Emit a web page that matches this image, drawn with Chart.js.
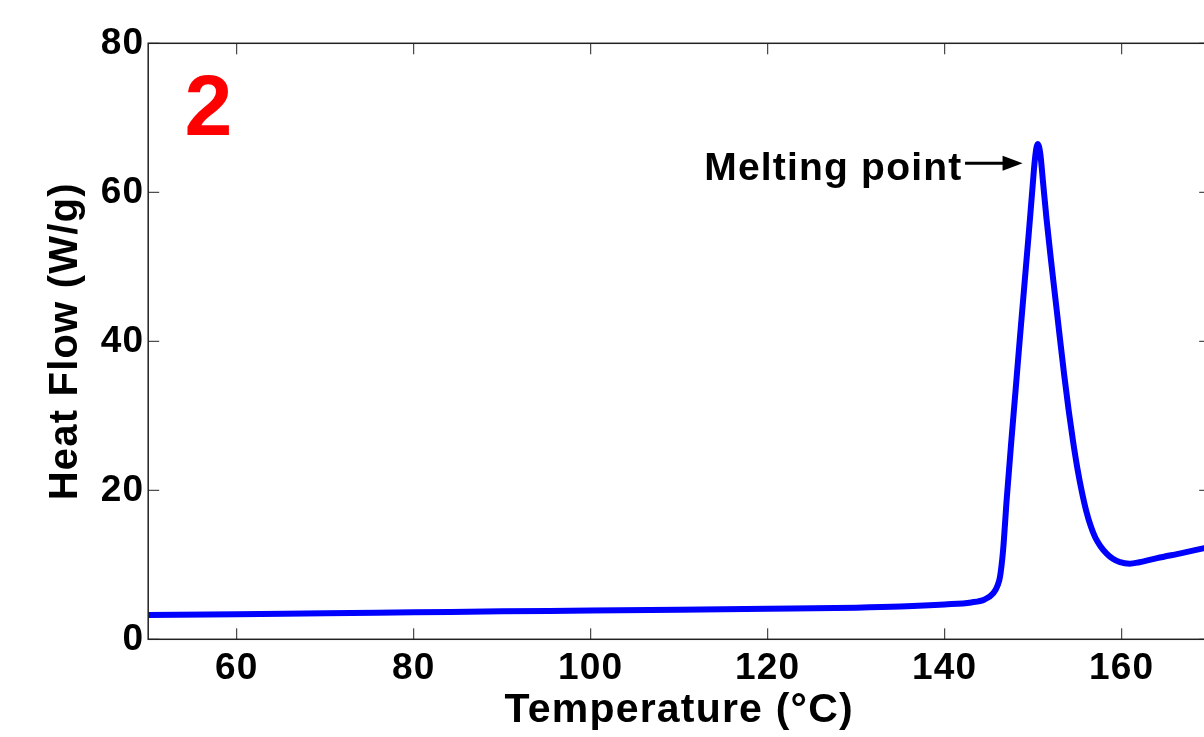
<!DOCTYPE html>
<html>
<head>
<meta charset="utf-8">
<title>Heat Flow</title>
<script src="https://cdn.jsdelivr.net/npm/chart.js@4.4.0/dist/chart.umd.min.js"></script>
<style>
  html, body { margin: 0; padding: 0; background: #fff; overflow: hidden; }
  #wrap { width: 1230px; height: 737px; position: relative; }
</style>
</head>
<body>
<div id="wrap"><canvas id="dscChart"></canvas></div>
<script>
// DSC trace, sample 2
const temperature = [50, 60, 70, 80, 90, 100, 110, 120, 130, 135, 140, 143, 144.5, 145.5, 146, 146.25,
  146.6, 147, 147.5, 148, 148.5, 149, 149.5, 149.9, 150.2, 150.5, 150.8,
  151.1, 151.5, 152, 152.5, 153, 153.5, 154, 154.5, 155, 155.5, 156, 156.5, 157, 157.6,
  158.3, 159, 159.8, 160.9, 162, 164, 166.9, 169.2, 170];
const heatFlow = [3.25, 3.35, 3.5, 3.62, 3.75, 3.85, 3.97, 4.1, 4.25, 4.4, 4.68, 4.95, 5.35, 6.2, 7.3, 8.4,
  12.0, 18.7, 26.2, 33.3, 40.5, 47.5, 54.5, 60.3, 64.5, 66.5, 65.2,
  61.5, 56.5, 51.0, 45.8, 40.6, 35.5, 30.8, 26.6, 22.9, 19.8, 17.2, 15.2, 13.7, 12.5,
  11.5, 10.8, 10.35, 10.15, 10.35, 10.9, 11.6, 12.2, 12.4];

const xTicks = [60, 80, 100, 120, 140, 160];
const yTicks = [0, 20, 40, 60, 80];

const FONT = "'Liberation Sans', Arial, Helvetica, sans-serif";
const boldFont = (size) => ({ family: FONT, size: size, weight: "bold", lineHeight: 1 });

// a little extra tracking on all bold text
const tracking = {
  id: "tracking",
  beforeDraw(chart) {
    chart.ctx.letterSpacing = "1.2px";
  }
};

// full box around the plot with inward ticks on all four sides
const axesBox = {
  id: "axesBox",
  afterDraw(chart) {
    const { ctx, chartArea: a, scales } = chart;
    const len = 11;
    ctx.save();
    ctx.strokeStyle = "#222";
    ctx.lineWidth = 1.5;
    ctx.strokeRect(a.left, a.top, a.right - a.left, a.bottom - a.top);
    ctx.lineWidth = 1;
    ctx.beginPath();
    xTicks.forEach((v) => {
      const px = scales.x.getPixelForValue(v);
      ctx.moveTo(px, a.bottom); ctx.lineTo(px, a.bottom - len);
      ctx.moveTo(px, a.top); ctx.lineTo(px, a.top + len);
    });
    yTicks.forEach((v) => {
      const py = scales.y.getPixelForValue(v);
      ctx.moveTo(a.left, py); ctx.lineTo(a.left + len, py);
      ctx.moveTo(a.right, py); ctx.lineTo(a.right - len, py);
    });
    ctx.stroke();
    ctx.restore();
  }
};

// panel number and the peak label with its arrow
const notes = {
  id: "notes",
  afterDraw(chart) {
    const { ctx, scales } = chart;
    const X = (v) => scales.x.getPixelForValue(v);
    const Y = (v) => scales.y.getPixelForValue(v);
    ctx.save();

    ctx.letterSpacing = "0px";
    ctx.fillStyle = "#ff0000";
    ctx.font = "bold 86px " + FONT;
    ctx.textAlign = "center";
    ctx.textBaseline = "alphabetic";
    ctx.fillText("2", X(56.8), Y(67.7));

    ctx.letterSpacing = "1.2px";
    ctx.fillStyle = "#000";
    ctx.font = "bold 39px " + FONT;
    ctx.textAlign = "right";
    ctx.fillText("Melting point", X(142), Y(61.65));

    const x0 = X(142.3), x1 = X(148.8), ya = Y(63.9);
    ctx.strokeStyle = "#000";
    ctx.lineWidth = 3;
    ctx.beginPath();
    ctx.moveTo(x0, ya);
    ctx.lineTo(x1 - 14, ya);
    ctx.stroke();
    ctx.beginPath();
    ctx.moveTo(x1, ya);
    ctx.lineTo(x1 - 20, ya - 7.5);
    ctx.lineTo(x1 - 20, ya + 7.5);
    ctx.closePath();
    ctx.fill();
    ctx.restore();
  }
};

const ctx = document.getElementById("dscChart");
new Chart(ctx, {
  type: "line",
  data: {
    datasets: [
      {
        data: temperature.map((t, i) => ({ x: t, y: heatFlow[i] })),
        borderColor: "#0000ff",
        borderWidth: 6,
        pointRadius: 0,
        fill: false,
        cubicInterpolationMode: "monotone",
        borderJoinStyle: "round",
        borderCapStyle: "round",
      },
    ],
  },
  options: {
    responsive: true,
    maintainAspectRatio: false,
    animation: false,
    events: [],
    layout: { padding: { top: 43.3, right: 19.8, left: 0, bottom: 0 } },
    plugins: { legend: { display: false }, tooltip: { enabled: false } },
    scales: {
      x: {
        type: "linear",
        min: 50,
        max: 170,
        afterBuildTicks: (s) => { s.ticks = xTicks.map((v) => ({ value: v })); },
        afterFit: (s) => { s.height = 97.7; },
        grid: { display: false, drawTicks: false },
        border: { display: false },
        ticks: { color: "#000", font: boldFont(37), padding: 11, maxRotation: 0, autoSkip: false },
        title: {
          display: true,
          text: "Temperature (°C)",
          color: "#000",
          font: boldFont(41),
          padding: { top: 0, bottom: 5.5 },
        },
      },
      y: {
        type: "linear",
        min: 0,
        max: 80,
        afterBuildTicks: (s) => { s.ticks = yTicks.map((v) => ({ value: v })); },
        afterFit: (s) => { s.width = 148.2; },
        grid: { display: false, drawTicks: false },
        border: { display: false },
        ticks: { color: "#000", font: boldFont(37), padding: 4, autoSkip: false },
        title: {
          display: true,
          text: "Heat Flow (W/g)",
          color: "#000",
          font: boldFont(40),
          padding: { top: 46, bottom: 0 },
        },
      },
    },
  },
  plugins: [tracking, axesBox, notes],
});
</script>
</body>
</html>
